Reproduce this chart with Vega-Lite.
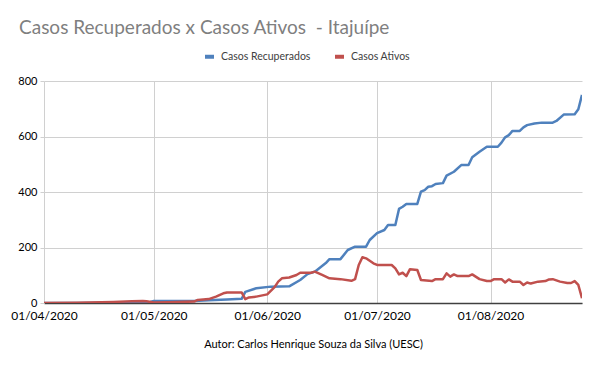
{
  "$schema": "https://vega.github.io/schema/vega-lite/v6.json",
  "autosize": "none",
  "width": 538,
  "height": 222,
  "padding": {"left": 44, "top": 81, "right": 18, "bottom": 68},
  "background": "white",
  "title": {
    "text": "Casos Recuperados x Casos Ativos \u00a0- Itajuípe",
    "anchor": "start",
    "frame": "group",
    "dx": -25,
    "offset": 12,
    "font": "Lato",
    "fontSize": 19,
    "fontWeight": "normal",
    "color": "#7f7f7f"
  },
  "config": {
    "view": {"stroke": null},
    "font": "Lato"
  },
  "data": {
    "values": [
      {"d": "2020-04-01", "s": "Casos Recuperados", "v": 0},
      {"d": "2020-04-10", "s": "Casos Recuperados", "v": 0},
      {"d": "2020-04-20", "s": "Casos Recuperados", "v": 1},
      {"d": "2020-04-28", "s": "Casos Recuperados", "v": 2},
      {"d": "2020-04-30", "s": "Casos Recuperados", "v": 4},
      {"d": "2020-05-01", "s": "Casos Recuperados", "v": 7},
      {"d": "2020-05-12", "s": "Casos Recuperados", "v": 7},
      {"d": "2020-05-16", "s": "Casos Recuperados", "v": 10},
      {"d": "2020-05-21", "s": "Casos Recuperados", "v": 13},
      {"d": "2020-05-25", "s": "Casos Recuperados", "v": 15},
      {"d": "2020-05-26", "s": "Casos Recuperados", "v": 40},
      {"d": "2020-05-29", "s": "Casos Recuperados", "v": 53},
      {"d": "2020-06-02", "s": "Casos Recuperados", "v": 59},
      {"d": "2020-06-07", "s": "Casos Recuperados", "v": 60},
      {"d": "2020-06-10", "s": "Casos Recuperados", "v": 83},
      {"d": "2020-06-12", "s": "Casos Recuperados", "v": 104},
      {"d": "2020-06-14", "s": "Casos Recuperados", "v": 113},
      {"d": "2020-06-17", "s": "Casos Recuperados", "v": 144},
      {"d": "2020-06-18", "s": "Casos Recuperados", "v": 158},
      {"d": "2020-06-21", "s": "Casos Recuperados", "v": 158},
      {"d": "2020-06-23", "s": "Casos Recuperados", "v": 191},
      {"d": "2020-06-25", "s": "Casos Recuperados", "v": 203},
      {"d": "2020-06-28", "s": "Casos Recuperados", "v": 203},
      {"d": "2020-06-29", "s": "Casos Recuperados", "v": 227},
      {"d": "2020-07-01", "s": "Casos Recuperados", "v": 252},
      {"d": "2020-07-03", "s": "Casos Recuperados", "v": 263},
      {"d": "2020-07-04", "s": "Casos Recuperados", "v": 281},
      {"d": "2020-07-06", "s": "Casos Recuperados", "v": 281},
      {"d": "2020-07-07", "s": "Casos Recuperados", "v": 339},
      {"d": "2020-07-08", "s": "Casos Recuperados", "v": 347},
      {"d": "2020-07-09", "s": "Casos Recuperados", "v": 357},
      {"d": "2020-07-12", "s": "Casos Recuperados", "v": 357},
      {"d": "2020-07-13", "s": "Casos Recuperados", "v": 401},
      {"d": "2020-07-14", "s": "Casos Recuperados", "v": 407},
      {"d": "2020-07-15", "s": "Casos Recuperados", "v": 419},
      {"d": "2020-07-16", "s": "Casos Recuperados", "v": 421},
      {"d": "2020-07-17", "s": "Casos Recuperados", "v": 429},
      {"d": "2020-07-19", "s": "Casos Recuperados", "v": 432},
      {"d": "2020-07-20", "s": "Casos Recuperados", "v": 459},
      {"d": "2020-07-22", "s": "Casos Recuperados", "v": 473},
      {"d": "2020-07-24", "s": "Casos Recuperados", "v": 497},
      {"d": "2020-07-26", "s": "Casos Recuperados", "v": 497},
      {"d": "2020-07-27", "s": "Casos Recuperados", "v": 525},
      {"d": "2020-07-29", "s": "Casos Recuperados", "v": 545},
      {"d": "2020-07-31", "s": "Casos Recuperados", "v": 563},
      {"d": "2020-08-03", "s": "Casos Recuperados", "v": 563},
      {"d": "2020-08-04", "s": "Casos Recuperados", "v": 578},
      {"d": "2020-08-05", "s": "Casos Recuperados", "v": 597},
      {"d": "2020-08-06", "s": "Casos Recuperados", "v": 605},
      {"d": "2020-08-07", "s": "Casos Recuperados", "v": 620},
      {"d": "2020-08-09", "s": "Casos Recuperados", "v": 620},
      {"d": "2020-08-10", "s": "Casos Recuperados", "v": 633},
      {"d": "2020-08-11", "s": "Casos Recuperados", "v": 641},
      {"d": "2020-08-13", "s": "Casos Recuperados", "v": 647},
      {"d": "2020-08-15", "s": "Casos Recuperados", "v": 650},
      {"d": "2020-08-18", "s": "Casos Recuperados", "v": 650},
      {"d": "2020-08-19", "s": "Casos Recuperados", "v": 656},
      {"d": "2020-08-21", "s": "Casos Recuperados", "v": 679},
      {"d": "2020-08-24", "s": "Casos Recuperados", "v": 680},
      {"d": "2020-08-25", "s": "Casos Recuperados", "v": 698},
      {"d": "2020-08-26", "s": "Casos Recuperados", "v": 750},
      {"d": "2020-04-01", "s": "Casos Ativos", "v": 0},
      {"d": "2020-04-10", "s": "Casos Ativos", "v": 1},
      {"d": "2020-04-20", "s": "Casos Ativos", "v": 4},
      {"d": "2020-04-25", "s": "Casos Ativos", "v": 6},
      {"d": "2020-04-28", "s": "Casos Ativos", "v": 7},
      {"d": "2020-04-29", "s": "Casos Ativos", "v": 6},
      {"d": "2020-05-01", "s": "Casos Ativos", "v": 2},
      {"d": "2020-05-05", "s": "Casos Ativos", "v": 3},
      {"d": "2020-05-12", "s": "Casos Ativos", "v": 5},
      {"d": "2020-05-13", "s": "Casos Ativos", "v": 11},
      {"d": "2020-05-16", "s": "Casos Ativos", "v": 14},
      {"d": "2020-05-18", "s": "Casos Ativos", "v": 23},
      {"d": "2020-05-20", "s": "Casos Ativos", "v": 35},
      {"d": "2020-05-21", "s": "Casos Ativos", "v": 38},
      {"d": "2020-05-25", "s": "Casos Ativos", "v": 38},
      {"d": "2020-05-26", "s": "Casos Ativos", "v": 14},
      {"d": "2020-05-27", "s": "Casos Ativos", "v": 20},
      {"d": "2020-05-29", "s": "Casos Ativos", "v": 23},
      {"d": "2020-06-01", "s": "Casos Ativos", "v": 31},
      {"d": "2020-06-03", "s": "Casos Ativos", "v": 57},
      {"d": "2020-06-04", "s": "Casos Ativos", "v": 77},
      {"d": "2020-06-05", "s": "Casos Ativos", "v": 89},
      {"d": "2020-06-07", "s": "Casos Ativos", "v": 92},
      {"d": "2020-06-09", "s": "Casos Ativos", "v": 101},
      {"d": "2020-06-10", "s": "Casos Ativos", "v": 109},
      {"d": "2020-06-13", "s": "Casos Ativos", "v": 109},
      {"d": "2020-06-14", "s": "Casos Ativos", "v": 113},
      {"d": "2020-06-16", "s": "Casos Ativos", "v": 101},
      {"d": "2020-06-18", "s": "Casos Ativos", "v": 89},
      {"d": "2020-06-21", "s": "Casos Ativos", "v": 86},
      {"d": "2020-06-24", "s": "Casos Ativos", "v": 80},
      {"d": "2020-06-25", "s": "Casos Ativos", "v": 86},
      {"d": "2020-06-26", "s": "Casos Ativos", "v": 137},
      {"d": "2020-06-27", "s": "Casos Ativos", "v": 165},
      {"d": "2020-06-28", "s": "Casos Ativos", "v": 161},
      {"d": "2020-06-30", "s": "Casos Ativos", "v": 143},
      {"d": "2020-07-01", "s": "Casos Ativos", "v": 137},
      {"d": "2020-07-05", "s": "Casos Ativos", "v": 137},
      {"d": "2020-07-06", "s": "Casos Ativos", "v": 125},
      {"d": "2020-07-07", "s": "Casos Ativos", "v": 103},
      {"d": "2020-07-08", "s": "Casos Ativos", "v": 109},
      {"d": "2020-07-09", "s": "Casos Ativos", "v": 97},
      {"d": "2020-07-10", "s": "Casos Ativos", "v": 122},
      {"d": "2020-07-12", "s": "Casos Ativos", "v": 119},
      {"d": "2020-07-13", "s": "Casos Ativos", "v": 83},
      {"d": "2020-07-16", "s": "Casos Ativos", "v": 79},
      {"d": "2020-07-17", "s": "Casos Ativos", "v": 86},
      {"d": "2020-07-19", "s": "Casos Ativos", "v": 86},
      {"d": "2020-07-20", "s": "Casos Ativos", "v": 107},
      {"d": "2020-07-21", "s": "Casos Ativos", "v": 95},
      {"d": "2020-07-22", "s": "Casos Ativos", "v": 103},
      {"d": "2020-07-23", "s": "Casos Ativos", "v": 97},
      {"d": "2020-07-26", "s": "Casos Ativos", "v": 97},
      {"d": "2020-07-27", "s": "Casos Ativos", "v": 103},
      {"d": "2020-07-29", "s": "Casos Ativos", "v": 86},
      {"d": "2020-07-31", "s": "Casos Ativos", "v": 79},
      {"d": "2020-08-01", "s": "Casos Ativos", "v": 79},
      {"d": "2020-08-02", "s": "Casos Ativos", "v": 86},
      {"d": "2020-08-04", "s": "Casos Ativos", "v": 86},
      {"d": "2020-08-05", "s": "Casos Ativos", "v": 74},
      {"d": "2020-08-06", "s": "Casos Ativos", "v": 85},
      {"d": "2020-08-07", "s": "Casos Ativos", "v": 77},
      {"d": "2020-08-09", "s": "Casos Ativos", "v": 77},
      {"d": "2020-08-10", "s": "Casos Ativos", "v": 65},
      {"d": "2020-08-11", "s": "Casos Ativos", "v": 74},
      {"d": "2020-08-12", "s": "Casos Ativos", "v": 70},
      {"d": "2020-08-14", "s": "Casos Ativos", "v": 77},
      {"d": "2020-08-16", "s": "Casos Ativos", "v": 79},
      {"d": "2020-08-17", "s": "Casos Ativos", "v": 85},
      {"d": "2020-08-18", "s": "Casos Ativos", "v": 86},
      {"d": "2020-08-20", "s": "Casos Ativos", "v": 77},
      {"d": "2020-08-22", "s": "Casos Ativos", "v": 72},
      {"d": "2020-08-23", "s": "Casos Ativos", "v": 72},
      {"d": "2020-08-24", "s": "Casos Ativos", "v": 79},
      {"d": "2020-08-25", "s": "Casos Ativos", "v": 65},
      {"d": "2020-08-26", "s": "Casos Ativos", "v": 17}
    ]
  },
  "mark": {"type": "line", "strokeWidth": 2.5, "strokeJoin": "round", "clip": true},
  "encoding": {
    "x": {
      "field": "d",
      "type": "temporal",
      "scale": {
        "type": "utc",
        "domain": [
          {"year": 2020, "month": 4, "date": 1, "utc": true},
          {"year": 2020, "month": 8, "date": 26, "utc": true}
        ]
      },
      "axis": {
        "format": "%d/%m/%Y",
        "tickCount": {"interval": "month", "step": 1},
        "labelFont": "Lato",
        "labelFontSize": 12,
        "labelColor": "#000000",
        "labelPadding": 7,
        "labelOverlap": false,
        "labelFlush": false,
        "ticks": false,
        "domainColor": "#404040",
        "domainWidth": 1.5,
        "grid": true,
        "gridColor": "#d0d0d0",
        "gridWidth": 1,
        "title": "Autor: Carlos Henrique Souza da Silva (UESC)",
        "titleFont": "Lato",
        "titleFontSize": 11,
        "titleFontWeight": "normal",
        "titleColor": "#000000",
        "titlePadding": 17
      }
    },
    "y": {
      "field": "v",
      "type": "quantitative",
      "scale": {"domain": [0, 800], "nice": false},
      "axis": {
        "values": [0, 200, 400, 600, 800],
        "title": null,
        "labelFont": "Lato",
        "labelFontSize": 11,
        "labelColor": "#000000",
        "labelPadding": 3,
        "ticks": true,
        "tickSize": 4,
        "tickColor": "#d0d0d0",
        "domain": false,
        "grid": true,
        "gridColor": "#d0d0d0",
        "gridWidth": 1
      }
    },
    "color": {
      "field": "s",
      "type": "nominal",
      "scale": {
        "domain": ["Casos Recuperados", "Casos Ativos"],
        "range": ["#4F81BD", "#C0504D"]
      },
      "legend": {
        "title": null,
        "orient": "none",
        "direction": "horizontal",
        "legendX": 159,
        "legendY": -31,
        "symbolType": "stroke",
        "symbolSize": 81,
        "symbolStrokeWidth": 4,
        "labelFont": "Lato",
        "labelFontSize": 10.5,
        "labelColor": "#404040",
        "labelOffset": 5,
        "columnPadding": 16
      }
    }
  }
}
